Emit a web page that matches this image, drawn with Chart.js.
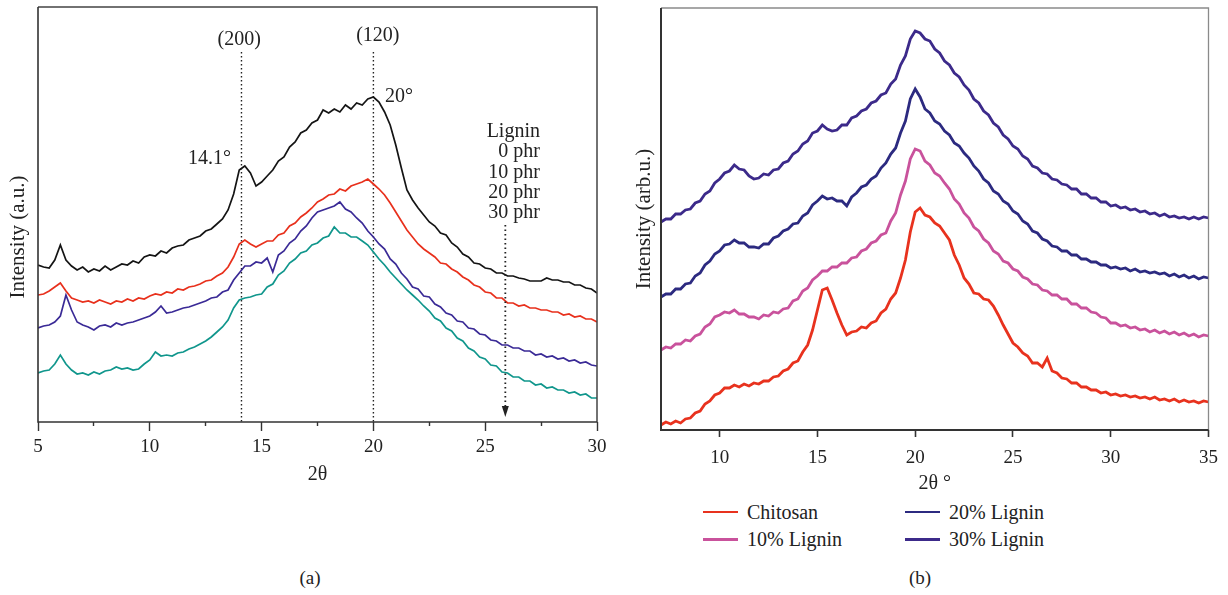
<!DOCTYPE html>
<html>
<head>
<meta charset="utf-8">
<script src="https://cdn.jsdelivr.net/npm/chart.js@4.4.0/dist/chart.umd.min.js"></script>
<style>
  body { margin: 0; background: #fff; width: 1228px; height: 595px; position: relative; overflow: hidden; font-family: "Liberation Serif", serif; color: #222; }
  #chartA { position: absolute; left: 0; top: 0; }
  #chartB { position: absolute; left: 614px; top: 0; }
  .cap { position: absolute; font-size: 19px; transform: translate(-50%, -50%); }
  .legLine { position: absolute; width: 35px; }
  .legText { position: absolute; font-size: 20px; line-height: 22px; white-space: nowrap; }
</style>
</head>
<body>
<canvas id="chartA" width="614" height="490"></canvas>
<canvas id="chartB" width="614" height="500"></canvas>
<div class="cap" style="left:310px;top:578px">(a)</div>
<div class="cap" style="left:920px;top:578px">(b)</div>
<div id="legendB"></div>
<script>
// ---------- panel (a): 2theta 5..30 ----------
const xA = [5,5.25,5.5,5.75,6,6.25,6.5,6.75,7,7.25,7.5,7.75,8,8.25,8.5,8.75,9,9.25,9.5,9.75,
  10,10.25,10.5,10.75,11,11.25,11.5,11.75,12,12.25,12.5,12.75,13,13.25,13.5,13.75,14,14.25,14.5,14.75,
  15,15.25,15.5,15.75,16,16.25,16.5,16.75,17,17.25,17.5,17.75,18,18.25,18.5,18.75,19,19.25,19.5,19.75,
  20,20.25,20.5,20.75,21,21.25,21.5,21.75,22,22.25,22.5,22.75,23,23.25,23.5,23.75,24,24.25,24.5,24.75,
  25,25.25,25.5,25.75,26,26.25,26.5,26.75,27,27.25,27.5,27.75,28,28.25,28.5,28.75,29,29.25,29.5,29.75,30];

const phr0 = [157,155,154,162,177,162,156,152,155,150,153,151,156,152,155,158,157,161,159,165,
  167,166,171,169,174,176,177,182,184,186,191,193,198,203,212,228,252,256,249,236,
  240,246,252,261,265,275,280,289,292,299,302,312,309,313,310,317,313,319,317,323,
  325,320,310,297,277,254,232,222,214,207,200,196,189,187,179,175,168,165,159,158,
  154,153,149,149,146,146,144,143,141,141,141,144,142,142,140,140,137,137,134,133,129];
const phr10 = [127,128,131,135,139,131,124,122,120,121,119,122,120,118,121,120,123,121,124,123,
  126,128,127,130,129,133,132,135,136,138,141,142,146,149,155,165,178,182,178,175,
  178,181,181,187,189,196,199,205,209,214,220,223,227,228,233,231,236,238,240,243,
  238,233,227,219,210,201,192,185,178,173,169,165,159,158,153,150,145,142,137,135,
  130,129,124,124,119,119,116,117,114,114,112,112,110,110,107,108,105,106,103,103,100];
const phr20 = [94,96,97,100,106,127,112,100,97,95,92,96,97,95,99,97,99,100,102,104,
  106,110,116,109,110,112,114,115,117,119,121,124,125,130,132,142,149,156,156,160,
  159,164,150,167,171,179,183,191,196,204,210,212,214,216,220,213,210,204,199,191,
  185,178,173,163,158,149,143,135,133,126,125,118,115,109,107,101,100,94,93,88,
  87,82,81,77,77,74,74,71,71,67,68,65,66,63,64,61,62,59,60,57,56];
const phr30 = [49,51,52,58,67,58,52,48,49,47,50,48,51,52,55,53,54,52,53,58,
  62,70,66,67,66,69,70,73,75,78,81,85,90,95,102,114,122,124,125,127,
  128,135,138,147,151,159,163,169,171,177,179,184,186,195,189,189,185,185,181,177,
  170,163,157,150,144,138,132,127,122,116,111,104,101,94,91,84,81,74,71,65,
  63,57,56,50,49,45,45,41,41,37,38,34,35,32,32,29,30,27,28,24,24];

const namesA = ['0 phr', '10 phr', '20 phr', '30 phr'];
const colorsA = ['#141414', '#e8301c', '#3a2a96', '#10968c'];
const ticksA = [5,7.5,10,12.5,15,17.5,20,22.5,25,27.5,30];
const labelsA = [5,10,15,20,25,30];
const peakLinesA = [14.1, 20];
const arrowXA = 25.9;

// ---------- panel (b): 2theta 7..35 ----------
const xB = [7,7.25,7.5,7.75,8,8.25,8.5,8.75,9,9.25,9.5,9.75,10,10.25,10.5,10.75,11,11.25,11.5,11.75,
  12,12.25,12.5,12.75,13,13.25,13.5,13.75,14,14.25,14.5,14.75,15,15.25,15.5,15.75,16,16.25,16.5,16.75,
  17,17.25,17.5,17.75,18,18.25,18.5,18.75,19,19.25,19.5,19.75,20,20.25,20.5,20.75,21,21.25,21.5,21.75,
  22,22.25,22.5,22.75,23,23.25,23.5,23.75,24,24.25,24.5,24.75,25,25.25,25.5,25.75,26,26.25,26.5,26.75,
  27,27.25,27.5,27.75,28,28.25,28.5,28.75,29,29.25,29.5,29.75,30,30.25,30.5,30.75,31,31.25,31.5,31.75,
  32,32.25,32.5,32.75,33,33.25,33.5,33.75,34,34.25,34.5,34.75,35];

const chitosan = [5,8,6,9,7,11,12,17,19,26,29,35,37,42,42,45,43,46,44,47,
  46,49,49,53,54,59,61,67,69,78,85,100,120,140,142,130,117,105,95,98,
  99,103,102,107,109,117,121,131,137,152,170,198,218,222,215,213,207,204,197,190,
  175,165,152,146,137,136,131,130,124,115,105,96,87,83,77,74,67,67,63,72,
  59,57,52,51,47,47,43,43,40,40,37,38,35,36,34,35,33,34,32,33,
  31,33,30,31,29,31,28,30,28,29,27,29,28];
const lignin10 = [80,83,82,86,86,90,89,94,96,103,106,113,115,118,117,120,116,116,113,113,
  111,115,114,118,117,121,122,129,131,139,142,150,154,159,159,163,163,167,167,172,
  173,179,181,187,189,195,197,209,217,235,249,271,281,279,269,265,257,254,247,241,
  231,226,217,212,203,199,191,187,179,176,169,167,161,159,153,151,146,145,140,139,
  135,135,131,131,126,126,122,122,118,117,113,112,107,107,104,105,102,103,100,101,
  98,100,97,99,96,98,95,97,94,96,93,95,94];
const lignin20 = [133,136,136,141,141,146,147,154,157,165,169,176,179,185,186,190,187,187,183,183,
  182,186,186,192,194,199,201,206,207,214,217,225,229,234,231,232,229,229,224,233,
  237,243,245,251,254,262,267,276,282,297,309,331,341,333,321,317,309,306,299,295,
  287,284,277,272,264,259,251,247,239,236,229,226,219,216,209,206,199,197,191,189,
  184,183,179,179,175,175,171,171,168,168,165,165,162,163,161,162,159,161,158,159,
  157,158,156,157,154,156,153,155,152,154,151,153,152];
const lignin30 = [208,211,211,216,216,220,221,227,229,236,239,247,251,257,259,265,261,260,254,251,
  252,256,255,260,261,267,269,276,279,286,289,297,299,305,301,299,300,305,305,312,
  314,319,321,327,329,335,337,346,351,365,374,391,399,397,391,389,381,377,369,365,
  357,353,345,340,331,327,319,315,307,303,295,291,284,281,274,271,264,262,257,256,
  251,250,246,245,241,241,236,236,232,232,228,228,224,225,222,223,220,221,218,219,
  216,217,214,216,213,214,212,213,211,213,211,213,212];

const namesB = ['Chitosan', '10% Lignin', '20% Lignin', '30% Lignin'];
const colorsB = ['#e8321e', '#c9529c', '#2c2a80', '#3c2a8a'];
const ticksB = [10,15,20,25,30,35];

Chart.defaults.font.family = "'Liberation Serif', serif";
Chart.defaults.color = '#222';

function toPoints(xs, ys) {
  return xs.map((x, i) => ({ x: x, y: ys[i] }));
}

function frame(id, lowColor, highColor, lowWidth, highWidth) {
  return {
    id: id,
    afterDraw(chart) {
      const { ctx, chartArea: a } = chart;
      ctx.save();
      ctx.strokeStyle = highColor;
      ctx.lineWidth = highWidth;
      ctx.beginPath();
      ctx.moveTo(a.left, a.top);
      ctx.lineTo(a.right, a.top);
      ctx.lineTo(a.right, a.bottom);
      ctx.stroke();
      ctx.strokeStyle = lowColor;
      ctx.lineWidth = lowWidth;
      ctx.beginPath();
      ctx.moveTo(a.left, a.top);
      ctx.lineTo(a.left, a.bottom);
      ctx.lineTo(a.right, a.bottom);
      ctx.stroke();
      ctx.restore();
    }
  };
}

const annotateA = {
  id: 'annotateA',
  beforeDatasetsDraw(chart) {
    const { ctx, scales: { x, y } } = chart;
    ctx.save();
    ctx.strokeStyle = '#222';
    ctx.lineWidth = 1.4;
    ctx.setLineDash([1.5, 2.5]);
    peakLinesA.forEach(v => {
      ctx.beginPath();
      ctx.moveTo(x.getPixelForValue(v), y.getPixelForValue(370));
      ctx.lineTo(x.getPixelForValue(v), y.bottom);
      ctx.stroke();
    });
    ctx.restore();
  },
  afterDatasetsDraw(chart) {
    const { ctx, scales: { x, y } } = chart;
    ctx.save();
    const ax = x.getPixelForValue(arrowXA);
    ctx.strokeStyle = '#222';
    ctx.lineWidth = 1.8;
    ctx.setLineDash([1.5, 3]);
    ctx.beginPath();
    ctx.moveTo(ax, y.getPixelForValue(197));
    ctx.lineTo(ax, y.getPixelForValue(15));
    ctx.stroke();
    ctx.setLineDash([]);
    const tip = y.getPixelForValue(5);
    ctx.fillStyle = '#222';
    ctx.beginPath();
    ctx.moveTo(ax, tip);
    ctx.lineTo(ax - 3.5, tip - 11);
    ctx.lineTo(ax + 3.5, tip - 11);
    ctx.closePath();
    ctx.fill();

    const notes = [
      ['(200)', 14.0, 382, 'center'],
      ['(120)', 20.2, 386, 'center'],
      ['20°', 20.52, 325, 'left'],
      ['14.1°', 13.63, 263, 'right'],
      ['Lignin', 27.45, 290, 'right'],
      [namesA[0], 27.45, 270, 'right'],
      [namesA[1], 27.45, 249, 'right'],
      [namesA[2], 27.45, 229, 'right'],
      [namesA[3], 27.45, 209, 'right']
    ];
    ctx.font = "20px 'Liberation Serif'";
    ctx.textBaseline = 'middle';
    ctx.fillStyle = '#222';
    notes.forEach(n => {
      ctx.textAlign = n[3];
      ctx.fillText(n[0], x.getPixelForValue(n[1]), y.getPixelForValue(n[2]));
    });

    // y-axis title, centred a little below the middle of the plot as in the figure
    ctx.translate(18, y.getPixelForValue(185));
    ctx.rotate(-Math.PI / 2);
    ctx.textAlign = 'center';
    ctx.font = "21px 'Liberation Serif'";
    ctx.fillText('Intensity (a.u.)', 0, 0);
    ctx.restore();
  }
};

new Chart(document.getElementById('chartA'), {
  type: 'line',
  data: {
    datasets: [phr0, phr10, phr20, phr30].map((s, i) => ({
      label: namesA[i],
      data: toPoints(xA, s),
      borderColor: colorsA[i],
      borderWidth: 1.7,
      pointRadius: 0,
      tension: 0
    }))
  },
  options: {
    responsive: false,
    animation: false,
    devicePixelRatio: 1,
    layout: { padding: { left: 0, right: 17, top: 7, bottom: 0 } },
    plugins: { legend: { display: false }, tooltip: { enabled: false } },
    scales: {
      x: {
        type: 'linear',
        min: 5,
        max: 30,
        afterBuildTicks: s => { s.ticks = ticksA.map(v => ({ value: v })); },
        afterFit: s => { s.height = 68; },
        ticks: {
          autoSkip: false,
          maxRotation: 0,
          padding: 5,
          font: { size: 19 },
          callback: v => labelsA.includes(v) ? String(v) : ''
        },
        grid: {
          drawOnChartArea: false,
          drawTicks: true,
          tickLength: 9,
          tickColor: '#333',
          tickWidth: 1.4,
          // minor ticks are drawn shorter
          tickBorderDash: c => labelsA.includes(c.tick.value) ? [] : [4, 20]
        },
        border: { display: false },
        title: { display: true, text: '2θ', font: { size: 20 }, padding: { top: 0, bottom: 3 } }
      },
      y: {
        min: 0,
        max: 415,
        afterFit: s => { s.width = 38; },
        ticks: { display: false },
        grid: { display: false },
        border: { display: false },
        title: { display: false }
      }
    }
  },
  plugins: [annotateA, frame('frameA', '#333', '#444', 1.6, 1.5)]
});

new Chart(document.getElementById('chartB'), {
  type: 'line',
  data: {
    datasets: [chitosan, lignin10, lignin20, lignin30].map((s, i) => ({
      label: namesB[i],
      data: toPoints(xB, s),
      borderColor: colorsB[i],
      borderWidth: 2.8,
      pointRadius: 0,
      tension: 0
    }))
  },
  options: {
    responsive: false,
    animation: false,
    devicePixelRatio: 1,
    layout: { padding: { left: 0, right: 17, top: 8, bottom: 0 } },
    plugins: { legend: { display: false }, tooltip: { enabled: false } },
    scales: {
      x: {
        type: 'linear',
        min: 7,
        max: 35,
        afterBuildTicks: s => { s.ticks = ticksB.map(v => ({ value: v })); },
        afterFit: s => { s.height = 70; },
        ticks: { autoSkip: false, maxRotation: 0, padding: 10, font: { size: 19 } },
        grid: { drawOnChartArea: false, drawTicks: true, tickLength: 7, tickColor: '#333', tickWidth: 1.6 },
        border: { display: false },
        title: { display: true, text: '2θ °', font: { size: 20 }, padding: { top: 0, bottom: 4 } }
      },
      y: {
        min: 0,
        max: 422,
        afterFit: s => { s.width = 47; },
        ticks: { display: false },
        grid: { display: false },
        border: { display: false },
        title: { display: true, text: 'Intensity (arb.u.)', font: { size: 21 }, padding: { top: 18, bottom: 0 } }
      }
    }
  },
  plugins: [frame('frameB', '#333', '#8a8a8a', 2, 1.3)]
});

// legend for (b): two columns, two rows
const legend = document.getElementById('legendB');
const legCols = [703, 905];
const legRows = [512, 539];
const legThick = [1.6, 3, 1.6, 3];
namesB.forEach((name, i) => {
  const cx = legCols[Math.floor(i / 2)];
  const cy = legRows[i % 2];
  const line = document.createElement('div');
  line.className = 'legLine';
  line.style.left = cx + 'px';
  line.style.top = (cy - legThick[i] / 2) + 'px';
  line.style.height = legThick[i] + 'px';
  line.style.background = colorsB[i];
  legend.appendChild(line);
  const text = document.createElement('div');
  text.className = 'legText';
  text.style.left = (cx + 44) + 'px';
  text.style.top = (cy - 11) + 'px';
  text.textContent = name;
  legend.appendChild(text);
});
</script>
</body>
</html>
